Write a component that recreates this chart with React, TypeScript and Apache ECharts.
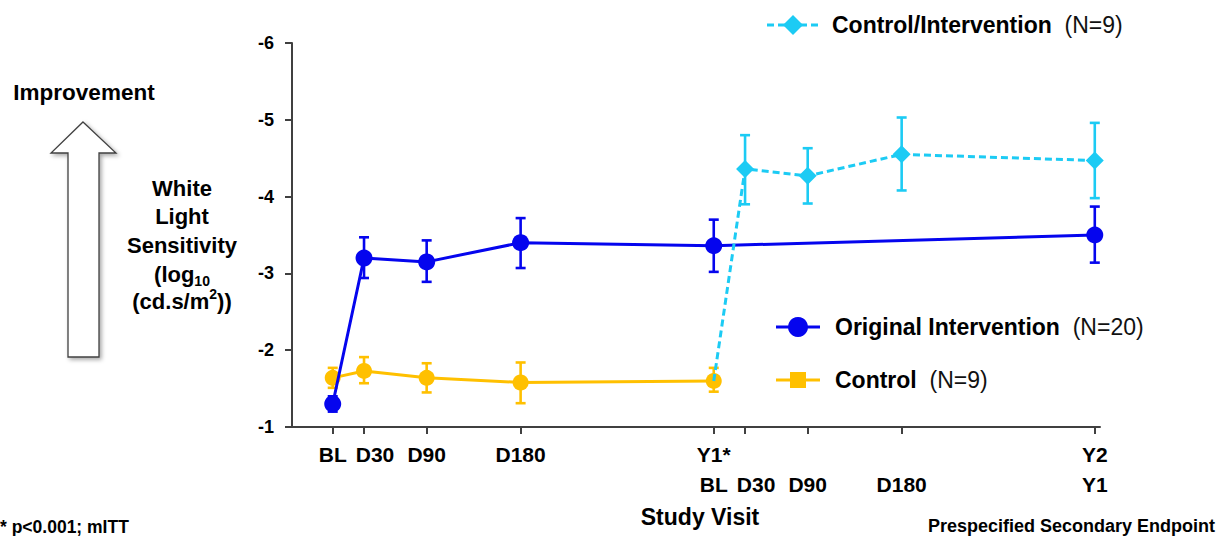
import React, { useEffect, useRef } from "react";
import * as echarts from "echarts";

// ---- data ----
const tickDays = [0, 30, 90, 180, 365, 395, 455, 545, 730];
const tickRow1 = ["BL", "D30", "D90", "D180", "Y1*", "", "", "", "Y2"];
const tickRow2 = ["", "", "", "", "BL", "D30", "D90", "D180", "Y1"];
const yTicks = [-6, -5, -4, -3, -2, -1];

const origDays = [0, 30, 90, 180, 365, 730];
const origMean = [-1.3, -3.2, -3.15, -3.4, -3.36, -3.5];
const origLow = [-1.4, -3.47, -3.43, -3.72, -3.7, -3.87];
const origHigh = [-1.2, -2.94, -2.89, -3.07, -3.02, -3.14];

const ctrlDays = [0, 30, 90, 180, 365];
const ctrlMean = [-1.64, -1.73, -1.64, -1.58, -1.6];
const ctrlLow = [-1.77, -1.91, -1.83, -1.84, -1.77];
const ctrlHigh = [-1.51, -1.57, -1.45, -1.31, -1.46];

const ciDays = [365, 395, 455, 545, 730];
const ciMean = [-1.6, -4.36, -4.27, -4.55, -4.47];
const ciLow = [null, -4.8, -4.63, -5.03, -4.96];
const ciHigh = [null, -3.9, -3.91, -4.08, -3.98];

const seriesNames = ["Original Intervention", "Control", "Control/Intervention"];
const seriesN = ["(N=20)", "(N=9)", "(N=9)"];

const BLUE = "#0505EE";
const YELLOW = "#FFC000";
const CYAN = "#1CCBF4";
const FONT = "'Liberation Sans', Arial, sans-serif";
const X_MIN = -39;
const X_MAX = 735;

function errData(days: number[], lo: (number | null)[], hi: (number | null)[]) {
  const out: any[] = [];
  days.forEach((d, i) => {
    if (lo[i] != null && hi[i] != null) out.push([d, lo[i], hi[i]]);
  });
  return out;
}

function errSeries(data: any[], color: string, z: number) {
  return {
    type: "custom",
    z,
    encode: { x: 0, y: [1, 2] },
    data,
    renderItem: (params: any, api: any) => {
      const x = api.value(0);
      const p1 = api.coord([x, api.value(1)]);
      const p2 = api.coord([x, api.value(2)]);
      const w = 5;
      const st = { stroke: color, lineWidth: 2.6 };
      return {
        type: "group",
        children: [
          { type: "line", shape: { x1: p1[0], y1: p1[1], x2: p2[0], y2: p2[1] }, style: st },
          { type: "line", shape: { x1: p1[0] - w, y1: p1[1], x2: p1[0] + w, y2: p1[1] }, style: st },
          { type: "line", shape: { x1: p2[0] - w, y1: p2[1], x2: p2[0] + w, y2: p2[1] }, style: st },
        ],
      };
    },
  };
}

function legendText(name: string, n: string) {
  return {
    text: `{b|${name}}{n|  ${n}}`,
    verticalAlign: "middle",
    rich: {
      b: { fontFamily: FONT, fontWeight: "bold", fontSize: 23, fill: "#000" },
      n: { fontFamily: FONT, fontWeight: "normal", fontSize: 23, fill: "#111" },
    },
  };
}

export default function App() {
  const ref = useRef<HTMLDivElement>(null);
  useEffect(() => {
    if (!ref.current) return;
    const chart = echarts.init(ref.current, null, { renderer: "svg" });
    const boldText = (size: number) => ({ fontFamily: FONT, fontWeight: "bold", fontSize: size, fill: "#000" });
    const titleLines = [
      { t: "White", y: 188 },
      { t: "Light", y: 216 },
      { t: "Sensitivity", y: 245 },
    ];
    const tok = (s: string) => (s === "" ? "{e| }" : s === "D30" ? `{s|${s}}` : `{a|${s}}`);
    const option: any = {
      animation: false,
      backgroundColor: "#fff",
      grid: { left: 292, right: 122, top: 43, bottom: 109 },
      xAxis: {
        type: "value",
        min: X_MIN,
        max: X_MAX,
        splitLine: { show: false },
        axisLine: { lineStyle: { color: "#404040", width: 2 }, onZero: false },
        axisTick: { customValues: tickDays, length: 7, lineStyle: { color: "#404040", width: 2 } },
        axisLabel: {
          customValues: [X_MIN, ...tickDays],
          hideOverlap: false,
          showMinLabel: true,
          showMaxLabel: true,
          formatter: (v: number) => {
            const i = tickDays.indexOf(v);
            if (i < 0) return "";
            return tok(tickRow1[i]) + "\n" + tok(tickRow2[i]);
          },
          margin: 12,
          lineHeight: 30,
          rich: {
            a: { fontFamily: FONT, fontWeight: "bold", fontSize: 21, lineHeight: 30, color: "#000" },
            s: {
              fontFamily: FONT,
              fontWeight: "bold",
              fontSize: 21,
              lineHeight: 30,
              color: "#000",
              padding: [0, 0, 0, 22],
            },
            e: { fontSize: 21, lineHeight: 30, color: "#000" },
          },
        },
      },
      yAxis: {
        type: "value",
        min: -6,
        max: -1,
        interval: 1,
        inverse: true,
        splitLine: { show: false },
        axisLine: { show: true, onZero: false, lineStyle: { color: "#404040", width: 2 } },
        axisTick: { show: true, length: 7, lineStyle: { color: "#404040", width: 2 } },
        axisLabel: {
          margin: 18,
          fontFamily: FONT,
          fontWeight: "bold",
          fontSize: 18,
          color: "#000",
          showMinLabel: true,
          showMaxLabel: true,
          formatter: (v: number) => (yTicks.includes(v) ? String(v) : ""),
        },
      },
      series: [
        errSeries(errData(ctrlDays, ctrlLow, ctrlHigh), YELLOW, 2),
        {
          name: seriesNames[1],
          type: "line",
          z: 3,
          data: ctrlDays.map((d, i) => [d, ctrlMean[i]]),
          symbol: "circle",
          symbolSize: 16,
          lineStyle: { color: YELLOW, width: 3 },
          itemStyle: { color: YELLOW },
        },
        errSeries(errData(origDays, origLow, origHigh), BLUE, 4),
        {
          name: seriesNames[0],
          type: "line",
          z: 5,
          data: origDays.map((d, i) => [d, origMean[i]]),
          symbol: "circle",
          symbolSize: 17,
          lineStyle: { color: BLUE, width: 3 },
          itemStyle: { color: BLUE },
        },
        errSeries(errData(ciDays, ciLow, ciHigh), CYAN, 6),
        {
          name: seriesNames[2],
          type: "line",
          z: 7,
          data: ciDays.map((d, i) => ({ value: [d, ciMean[i]], symbolSize: i === 0 ? 0 : 18 })),
          symbol: "diamond",
          lineStyle: { color: CYAN, width: 3, type: [7, 4] },
          itemStyle: { color: CYAN },
        },
      ],
      graphic: [
        // Improvement arrow
        {
          type: "polygon",
          shape: {
            points: [
              [83, 122],
              [116, 153],
              [99, 153],
              [99, 357],
              [68, 357],
              [68, 153],
              [51, 153],
            ],
          },
          style: {
            fill: "#fff",
            stroke: "#404040",
            lineWidth: 1.3,
            shadowBlur: 4,
            shadowOffsetX: 2,
            shadowOffsetY: 2,
            shadowColor: "rgba(0,0,0,0.35)",
          },
        },
        {
          type: "text",
          x: 84,
          y: 92,
          style: { text: "Improvement", align: "center", verticalAlign: "middle", ...boldText(22.5) },
        },
        ...titleLines.map((l) => ({
          type: "text",
          x: 182,
          y: l.y,
          style: { text: l.t, align: "center", verticalAlign: "middle", ...boldText(22) },
        })),
        {
          type: "text",
          x: 182,
          y: 274,
          style: {
            text: "{m|(log}{s|10}",
            align: "center",
            verticalAlign: "middle",
            rich: {
              m: { ...boldText(22), lineHeight: 28 },
              s: { ...boldText(14), lineHeight: 12, verticalAlign: "bottom" },
            },
          },
        },
        {
          type: "text",
          x: 182,
          y: 301,
          style: {
            text: "{m|(cd.s/m}{s|2}{m|))}",
            align: "center",
            verticalAlign: "middle",
            rich: {
              m: { ...boldText(22), lineHeight: 28 },
              s: { ...boldText(14), lineHeight: 16, verticalAlign: "top" },
            },
          },
        },
        // legends
        {
          type: "line",
          shape: { x1: 767, y1: 25, x2: 820, y2: 25 },
          style: { stroke: CYAN, lineWidth: 3, lineDash: [7, 4] },
        },
        {
          type: "polygon",
          shape: { points: [[793, 15], [803, 25], [793, 35], [783, 25]] },
          style: { fill: CYAN },
        },
        { type: "text", x: 832, y: 25, style: legendText(seriesNames[2], seriesN[2]) },
        {
          type: "line",
          shape: { x1: 776, y1: 327, x2: 820, y2: 327 },
          style: { stroke: BLUE, lineWidth: 3 },
        },
        { type: "circle", shape: { cx: 798, cy: 327, r: 10 }, style: { fill: BLUE } },
        { type: "text", x: 835, y: 327, style: legendText(seriesNames[0], seriesN[0]) },
        {
          type: "line",
          shape: { x1: 776, y1: 380, x2: 820, y2: 380 },
          style: { stroke: YELLOW, lineWidth: 3 },
        },
        { type: "rect", shape: { x: 790, y: 372, width: 16, height: 16 }, style: { fill: YELLOW } },
        { type: "text", x: 835, y: 380, style: legendText(seriesNames[1], seriesN[1]) },
        // footer texts
        {
          type: "text",
          x: 700,
          y: 517,
          style: { text: "Study Visit", align: "center", verticalAlign: "middle", ...boldText(23) },
        },
        {
          type: "text",
          x: 1215,
          y: 526,
          style: { text: "Prespecified Secondary Endpoint", align: "right", verticalAlign: "middle", ...boldText(18) },
        },
        {
          type: "text",
          x: 0,
          y: 527,
          style: { text: "* p<0.001; mITT", align: "left", verticalAlign: "middle", ...boldText(17.5) },
        },
      ],
    };
    chart.setOption(option);
    return () => chart.dispose();
  }, []);
  return (
    <div
      ref={ref}
      style={{ position: "fixed", left: 0, top: 0, width: 1222, height: 536, background: "#fff" }}
    />
  );
}
